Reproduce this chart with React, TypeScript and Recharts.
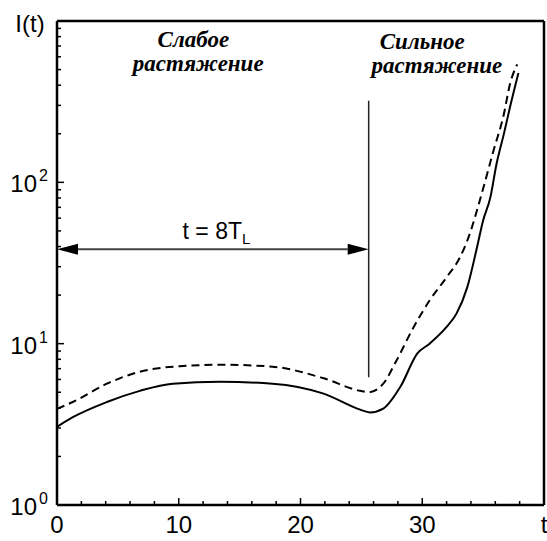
import {
  Line,
  LineChart,
  ReferenceDot,
  ReferenceLine,
  XAxis,
  YAxis,
} from 'recharts';

// solid curve
const tSolid = [0, 1.3, 4.1, 6.8, 9.5, 13.4, 17.7, 21.9, 24.9, 25.7, 26.8, 28.2, 29.6, 30.6, 32.0, 32.8, 33.7, 34.5, 35.0, 35.6, 36.1, 36.7, 37.2, 37.9];
const iSolid = [3.05, 3.5, 4.35, 5.1, 5.65, 5.8, 5.65, 4.9, 3.9, 3.75, 3.96, 5.4, 8.7, 10, 12.7, 15.3, 22.4, 39.6, 58, 81, 130, 199, 291, 476];

// dashed curve
const tDashed = [0, 1.3, 4.1, 6.8, 10.1, 13.6, 17.7, 21.9, 24.9, 25.6, 26.8, 27.9, 29.3, 30.6, 32.0, 33.1, 33.8, 34.8, 35.85, 36.7, 37.2, 37.8];
const iDashed = [3.95, 4.35, 5.65, 6.7, 7.25, 7.4, 7.2, 6.1, 5.1, 5.0, 5.65, 7.9, 12.7, 18.5, 25.8, 34.3, 45.6, 80.7, 157, 264, 405, 539];

const xTicks = [0, 2, 4, 6, 8, 10, 12, 14, 16, 18, 20, 22, 24, 26, 28, 30, 32, 34, 36, 38, 40];
const xLabels: Record<number, string> = { 0: '0', 10: '10', 20: '20', 30: '30', 40: 't' };
const yTicks = [1, 2, 3, 4, 5, 6, 7, 8, 9, 10, 20, 30, 40, 50, 60, 70, 80, 90, 100, 200, 300, 400, 500, 600, 700, 800, 900, 1000];
const yLabels: Record<number, string> = { 1: '0', 10: '1', 100: '2' };

const tL = 25.6; // end of weak stretching stage
const arrowLevel = 38.5;

const solidData = tSolid.map((t, i) => ({ t, v: iSolid[i] }));
const dashedData = tDashed.map((t, i) => ({ t, v: iDashed[i] }));

const sans = "'Liberation Sans', Arial, sans-serif";
const serif = "'Liberation Serif', 'Times New Roman', serif";

const XTick = ({ x, y, payload }: any) => {
  const v = payload.value;
  const major = v % 10 === 0;
  const label = xLabels[v];
  return (
    <g>
      {v !== 40 && <path d={`M${x},${y}V${y - (major ? 7 : 4)}`} stroke="#000" strokeWidth={1.5} />}
      {label && (
        <text x={x} y={y + 28} textAnchor="middle" fontFamily={sans} fontSize={24} fill="#000">
          {label}
        </text>
      )}
    </g>
  );
};

const YTick = ({ x, y, payload }: any) => {
  const v = payload.value;
  const major = Math.abs(Math.log10(v) % 1) < 1e-6;
  const exp = yLabels[v];
  return (
    <g>
      {v !== 1000 && <path d={`M${x},${y}H${x + (major ? 7 : 4)}`} stroke="#000" strokeWidth={1.5} />}
      {exp !== undefined && (
        <>
          <text x={x - 20} y={y + 10} textAnchor="end" fontFamily={sans} fontSize={24} fill="#000">
            10
          </text>
          <text x={x - 18} y={y - 1} textAnchor="start" fontFamily={sans} fontSize={16} fill="#000">
            {exp}
          </text>
        </>
      )}
    </g>
  );
};

const DoubleArrow = ({ x1, y1, x2 }: any) => {
  const head = 21;
  const half = 5.5;
  return (
    <g>
      <line x1={x1 + head} y1={y1} x2={x2 - head} y2={y1} stroke="#444" strokeWidth={2} />
      <polygon points={`${x1},${y1} ${x1 + head},${y1 - half} ${x1 + head},${y1 + half}`} fill="#000" />
      <polygon points={`${x2},${y1} ${x2 - head},${y1 - half} ${x2 - head},${y1 + half}`} fill="#000" />
    </g>
  );
};

const note = (text: string) => ({ cx, cy }: any) => (
  <text x={cx} y={cy} textAnchor="middle" fontFamily={serif} fontStyle="italic" fontWeight="bold" fontSize={23} fill="#000">
    {text}
  </text>
);

const DurationLabel = ({ cx, cy }: any) => (
  <text x={cx} y={cy} textAnchor="middle" fontFamily={sans} fontSize={23} fill="#000">
    t = 8T
    <tspan fontSize={15} dy={5}>L</tspan>
  </text>
);

const AxisTitle = ({ cx, cy }: any) => (
  <text x={cx - 27} y={cy + 11} textAnchor="middle" fontFamily={sans} fontSize={24} fill="#000">
    I(t)
  </text>
);

export default function App() {
  return (
    <div style={{ position: 'absolute', left: 0, top: 0, width: 547, height: 541, background: '#fff' }}>
      <LineChart width={547} height={541} margin={{ top: 21, right: 3, bottom: 0, left: 0 }}>
        <XAxis
          dataKey="t"
          type="number"
          domain={[0, 40]}
          ticks={xTicks}
          interval={0}
          height={36}
          tickSize={0}
          tickMargin={0}
          tickLine={false}
          axisLine={{ stroke: '#000', strokeWidth: 2.5 }}
          tick={XTick}
          allowDataOverflow
        />
        <YAxis
          type="number"
          scale="log"
          domain={[1, 1000]}
          ticks={yTicks}
          interval={0}
          width={57}
          tickSize={0}
          tickMargin={0}
          tickLine={false}
          axisLine={{ stroke: '#000', strokeWidth: 2.5 }}
          tick={YTick}
          allowDataOverflow
        />
        <ReferenceLine y={1000} stroke="#000" strokeWidth={2.5} />
        <ReferenceLine x={40} stroke="#000" strokeWidth={2.5} />
        <ReferenceLine
          segment={[{ x: tL, y: 6.2 }, { x: tL, y: 320 }]}
          stroke="#222"
          strokeWidth={1.5}
        />
        <ReferenceLine
          segment={[{ x: 0, y: arrowLevel }, { x: tL, y: arrowLevel }]}
          shape={(p: any) => <DoubleArrow {...p} />}
        />
        <Line
          data={dashedData}
          dataKey="v"
          type="monotone"
          stroke="#000"
          strokeWidth={2}
          strokeDasharray="8 5"
          dot={false}
          isAnimationActive={false}
        />
        <Line
          data={solidData}
          dataKey="v"
          type="monotone"
          stroke="#000"
          strokeWidth={2}
          dot={false}
          isAnimationActive={false}
        />
        <ReferenceDot x={11.2} y={690} r={0} shape={note('Слабое')} />
        <ReferenceDot x={11.6} y={490} r={0} shape={note('растяжение')} />
        <ReferenceDot x={30.0} y={670} r={0} shape={note('Сильное')} />
        <ReferenceDot x={31.2} y={476} r={0} shape={note('растяжение')} />
        <ReferenceDot x={13.1} y={44.8} r={0} shape={DurationLabel} />
        <ReferenceDot x={0} y={1000} r={0} shape={AxisTitle} />
      </LineChart>
    </div>
  );
}
